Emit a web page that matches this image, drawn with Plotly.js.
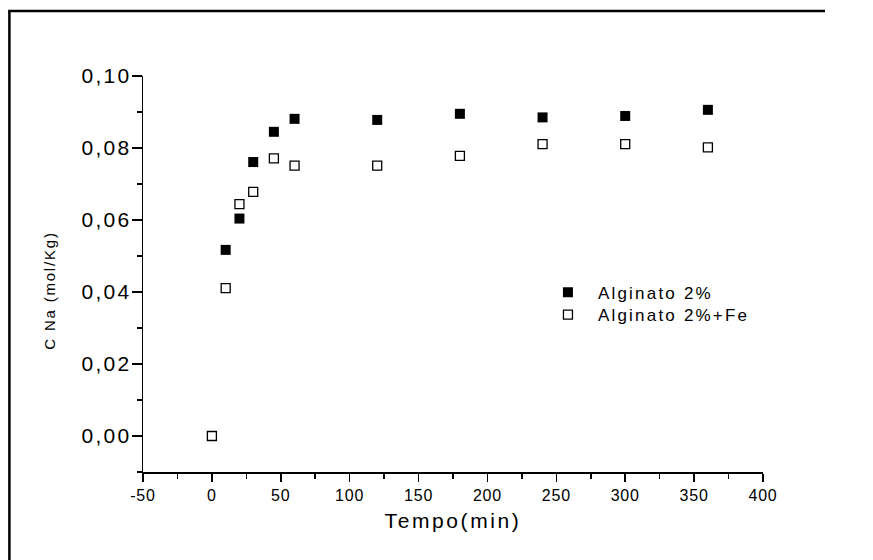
<!DOCTYPE html>
<html>
<head>
<meta charset="utf-8">
<script src="https://cdn.plot.ly/plotly-3.0.1.min.js"></script>
<style>
  html, body { margin: 0; padding: 0; background: #fff; overflow: hidden; }
  #chart { width: 873px; height: 560px; }
  .ytick text { letter-spacing: 2.2px; }
  .xtick text { letter-spacing: 0.8px; }
  text.xtitle { letter-spacing: 2.6px; }
  .annotation-text { letter-spacing: 1.8px; }
  text.legendtext, g.legend text, g.legend2 text { letter-spacing: 2.2px; }
  #js-plotly-tester text { letter-spacing: 2.2px; }
</style>
</head>
<body>
<div id="chart"></div>
<script>
// Data
const seriesNames = ["Alginato 2%", "Alginato 2%+Fe"];
const timeAlg = [10, 20, 30, 45, 60, 120, 180, 240, 300, 360];
const concAlg = [0.0517, 0.0604, 0.0761, 0.0845, 0.0881, 0.0878, 0.0895, 0.0885, 0.0889, 0.0906];
const timeAlgFe = [0, 10, 20, 30, 45, 60, 120, 180, 240, 300, 360];
const concAlgFe = [0.0000, 0.0411, 0.0644, 0.0678, 0.0771, 0.0751, 0.0751, 0.0778, 0.0811, 0.0811, 0.0802];

const xTickVals = [-50, 0, 50, 100, 150, 200, 250, 300, 350, 400];
const xTickText = ["-50", "0", "50", "100", "150", "200", "250", "300", "350", "400"];
const yTickVals = [0.00, 0.02, 0.04, 0.06, 0.08, 0.10];
const yTickText = ["0,00", "0,02", "0,04", "0,06", "0,08", "0,10"];
const xTitle = "Tempo(min)";
const yTitle = "C Na (mol/Kg)";

const FONT = "Arial";

const traces = [
  {
    x: timeAlg, y: concAlg, name: seriesNames[0],
    type: "scatter", mode: "markers", legend: "legend",
    marker: { symbol: "square", size: 10, color: "#000", line: { width: 0 } }
  },
  {
    x: timeAlgFe, y: concAlgFe, name: seriesNames[1],
    type: "scatter", mode: "markers", legend: "legend2",
    marker: { symbol: "square-open", size: 9, color: "#000", line: { width: 1.3, color: "#000" } }
  }
];

const layout = {
  width: 873, height: 560,
  paper_bgcolor: "#fff", plot_bgcolor: "#fff",
  margin: { l: 143, r: 110, t: 76, b: 88, pad: 0 },
  font: { family: FONT, color: "#000" },
  showlegend: true,
  legend: {
    x: 0.637, y: 0.498, xanchor: "left", yanchor: "top",
    bgcolor: "rgba(0,0,0,0)", borderwidth: 0,
    font: { family: FONT, size: 17, color: "#000" },
    itemwidth: 50
  },
  legend2: {
    x: 0.637, y: 0.4418, xanchor: "left", yanchor: "top",
    bgcolor: "rgba(0,0,0,0)", borderwidth: 0,
    font: { family: FONT, size: 17, color: "#000" },
    itemwidth: 50
  },
  xaxis: {
    range: [-50, 400], autorange: false,
    showline: true, linecolor: "#000", linewidth: 1.5, mirror: false,
    showgrid: false, zeroline: false,
    ticks: "outside", ticklen: 8, tickwidth: 1.5, tickcolor: "#000",
    tickmode: "array", tickvals: xTickVals, ticktext: xTickText,
    tickfont: { family: FONT, size: 16, color: "#000" },
    minor: { ticks: "outside", ticklen: 5, tickwidth: 1.5, tickcolor: "#000", dtick: 25, tick0: 0, showgrid: false },
    title: { text: xTitle, font: { family: FONT, size: 21, color: "#000" }, standoff: 10 }
  },
  yaxis: {
    range: [-0.01, 0.10], autorange: false,
    showline: true, linecolor: "#000", linewidth: 1.5, mirror: false,
    showgrid: false, zeroline: false,
    ticks: "outside", ticklen: 10, tickwidth: 1.5, tickcolor: "#000",
    tickmode: "array", tickvals: yTickVals, ticktext: yTickText,
    tickfont: { family: FONT, size: 21, color: "#000" },
    ticklabelstandoff: -4,
    minor: { ticks: "outside", ticklen: 5, tickwidth: 1.5, tickcolor: "#000", dtick: 0.01, tick0: 0, showgrid: false }
  },
  annotations: [
    { text: yTitle, xref: "paper", yref: "paper", x: -0.1515, y: 0.459,
      xanchor: "center", yanchor: "middle", textangle: -90, showarrow: false,
      font: { family: FONT, size: 15, color: "#000" } }
  ],
  shapes: [
    { type: "line", xref: "paper", yref: "paper", x0: -0.2155, x1: -0.2155, y0: -0.23, y1: 1.164,
      line: { color: "#000", width: 2.5 } },
    { type: "line", xref: "paper", yref: "paper", x0: -0.2175, x1: 1.1, y0: 1.164, y1: 1.164,
      line: { color: "#000", width: 2.5 } }
  ]
};

Plotly.newPlot("chart", traces, layout, { displayModeBar: false, staticPlot: true });
</script>
</body>
</html>
